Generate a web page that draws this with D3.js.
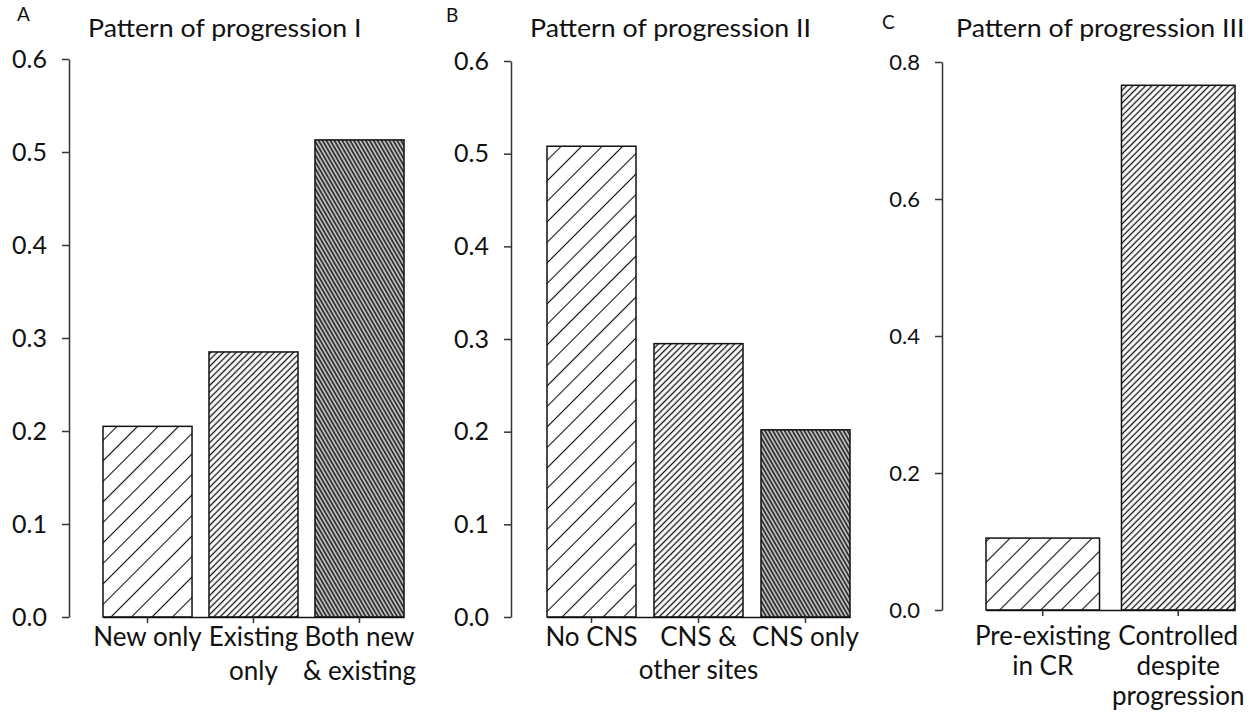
<!DOCTYPE html>
<html>
<head>
<meta charset="utf-8">
<script src="https://cdn.jsdelivr.net/npm/d3@7"></script>
<style>
  body { margin: 0; background: #fff; }
  text { font-family: Lato, "Open Sans", sans-serif; fill: #111; }
</style>
</head>
<body>
<script>
// Panel A - pattern of progression I
var categoriesA = [["New only"], ["Existing", "only"], ["Both new", "& existing"]];
var valuesA = [0.205, 0.285, 0.513];
var ticksA = [0, 0.1, 0.2, 0.3, 0.4, 0.5, 0.6];

// Panel B - pattern of progression II
var categoriesB = [["No CNS"], ["CNS &", "other sites"], ["CNS only"]];
var valuesB = [0.508, 0.295, 0.202];
var ticksB = [0, 0.1, 0.2, 0.3, 0.4, 0.5, 0.6];

// Panel C - pattern of progression III
var categoriesC = [["Pre-existing", "in CR"], ["Controlled", "despite", "progression"]];
var valuesC = [0.105, 0.766];
var ticksC = [0, 0.2, 0.4, 0.6, 0.8];

var titles = ["Pattern of progression I", "Pattern of progression II", "Pattern of progression III"];
var letters = ["A", "B", "C"];

var svg = d3.select("body").append("svg")
    .attr("width", 1255)
    .attr("height", 715);

// hatch fills: sparse "/", dense "/", very dense "\"
var defs = svg.append("defs");
var hatches = [
    { id: "h0", size: 14.5, width: 1.1, angle: 45, bg: "#fff", color: "#111" },
    { id: "h1", size: 4.5, width: 1.3, angle: 45, bg: "#fff", color: "#111" },
    { id: "h2", size: 3.4, width: 1.6, angle: -30, bg: "#bcbcbc", color: "#2a2a2a" }
];
hatches.forEach(function (h) {
    var p = defs.append("pattern")
        .attr("id", h.id)
        .attr("patternUnits", "userSpaceOnUse")
        .attr("width", h.size)
        .attr("height", h.size)
        .attr("patternTransform", "rotate(" + h.angle + ")");
    p.append("rect").attr("width", h.size).attr("height", h.size).attr("fill", h.bg);
    p.append("line")
        .attr("x1", h.size / 2).attr("x2", h.size / 2)
        .attr("y1", 0).attr("y2", h.size)
        .attr("stroke", h.color)
        .attr("stroke-width", h.width);
});

var panels = [
    { cats: categoriesA, vals: valuesA, ticks: ticksA, max: 0.6,
      axisX: 69, x0: 103, x1: 404, y0: 617, y1: 59, pad: 0.16,
      letterX: 17, letterY: 21, titleX: 88, tickFont: 25, labelY: 646, lineH: 34 },
    { cats: categoriesB, vals: valuesB, ticks: ticksB, max: 0.6,
      axisX: 511, x0: 547, x1: 850, y0: 617, y1: 61, pad: 0.168,
      letterX: 446, letterY: 22, titleX: 530, tickFont: 25, labelY: 646, lineH: 33 },
    { cats: categoriesC, vals: valuesC, ticks: ticksC, max: 0.8,
      axisX: 942, x0: 986, x1: 1235, y0: 610, y1: 62, pad: 0.162,
      letterX: 882, letterY: 29, titleX: 956, tickFont: 22, labelY: 645, lineH: 30 }
];

panels.forEach(function (p, k) {
    var g = svg.append("g");

    var y = d3.scaleLinear()
        .domain([0, p.max])
        .range([p.y0, p.y1]);

    var x = d3.scaleBand()
        .domain(p.cats.map(function (d) { return d.join(" "); }))
        .range([p.x0, p.x1])
        .paddingInner(p.pad)
        .paddingOuter(0);

    // bars
    g.selectAll("rect.bar")
        .data(p.vals)
        .enter().append("rect")
        .attr("class", "bar")
        .attr("x", function (d, i) { return x(p.cats[i].join(" ")); })
        .attr("y", function (d) { return y(d); })
        .attr("width", x.bandwidth())
        .attr("height", function (d) { return y(0) - y(d); })
        .attr("fill", function (d, i) { return "url(#h" + i + ")"; })
        .attr("stroke", "#111")
        .attr("stroke-width", 1.5);

    // y axis
    var yAxis = d3.axisLeft(y)
        .tickValues(p.ticks)
        .tickFormat(d3.format(".1f"))
        .tickSize(7)
        .tickPadding(15)
        .tickSizeOuter(0);
    var ga = g.append("g")
        .attr("transform", "translate(" + p.axisX + ",0)")
        .call(yAxis);
    ga.select(".domain").attr("stroke", "#333").attr("stroke-width", 1.5);
    ga.selectAll(".tick line").attr("stroke", "#333").attr("stroke-width", 1.5);
    ga.selectAll(".tick text")
        .style("font-family", "Lato, sans-serif")
        .style("font-size", p.tickFont + "px")
        .attr("fill", "#111");

    // x axis
    var xAxis = d3.axisBottom(x)
        .tickSize(6)
        .tickSizeOuter(0)
        .tickFormat("");
    var gx = g.append("g")
        .attr("transform", "translate(0," + p.y0 + ")")
        .call(xAxis);
    gx.select(".domain").attr("stroke", "#111").attr("stroke-width", 1.5);
    gx.selectAll(".tick line").attr("stroke", "#333").attr("stroke-width", 1.5);

    // category labels, one text line per row
    p.cats.forEach(function (lines, i) {
        var cx = x(lines.join(" ")) + x.bandwidth() / 2;
        lines.forEach(function (t, j) {
            g.append("text")
                .attr("x", cx)
                .attr("y", p.labelY + j * p.lineH)
                .attr("text-anchor", "middle")
                .style("font-size", "26px")
                .text(t);
        });
    });

    // panel letter and title
    g.append("text")
        .attr("x", p.letterX)
        .attr("y", p.letterY)
        .style("font-size", "19px")
        .text(letters[k]);
    g.append("text")
        .attr("transform", "translate(" + p.titleX + ",37) scale(1.07,1)")
        .style("font-size", "25px")
        .text(titles[k]);
});
</script>
</body>
</html>
